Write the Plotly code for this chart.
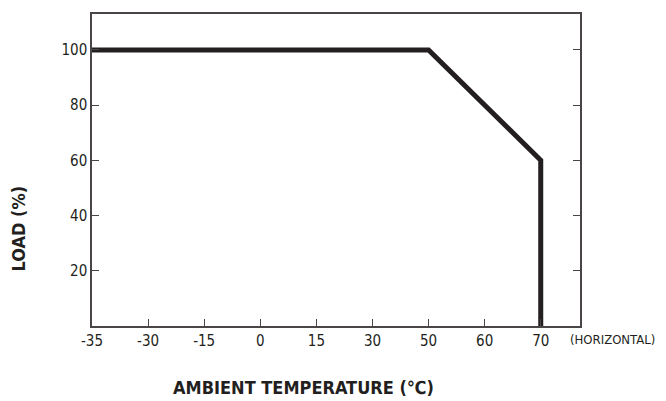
import plotly.graph_objects as go

# derating curve: ambient temperature vs load
temp_ticks = ['-35', '-30', '-15', '0', '15', '30', '50', '60', '70']
curve_temp = ['-35', '50', '70', '70']
curve_load = [100, 100, 60, 0]
load_ticks = [20, 40, 60, 80, 100]

ink = '#231f20'
axis_col = '#4a4646'
narrow = 'DejaVu Sans Condensed, Liberation Sans Narrow, Liberation Sans'
tick_font = dict(family=narrow, size=15, color=ink)
title_font = dict(family=narrow, size=18, color=ink)

fig = go.Figure()
fig.add_trace(go.Scatter(x=curve_temp, y=curve_load, mode='lines',
                         line=dict(color=ink, width=5), showlegend=False,
                         cliponaxis=False))

# page body adds ~8px offset, so the figure is a bit smaller than the window
fig.update_layout(
    width=659, height=395,
    margin=dict(l=84, r=87, t=4, b=77),
    plot_bgcolor='white', paper_bgcolor='white',
    xaxis=dict(type='category', categoryorder='array', categoryarray=temp_ticks,
               range=[0, 8.7], showgrid=False, zeroline=False,
               showline=True, linecolor=axis_col, linewidth=1.5, mirror=True,
               ticks='inside', ticklen=7, tickcolor=axis_col,
               tickfont=tick_font),
    yaxis=dict(range=[0, 113], tickvals=load_ticks, showgrid=False, zeroline=False,
               showline=True, linecolor=axis_col, linewidth=1.5, mirror='ticks',
               ticks='inside', ticklen=7, tickcolor=axis_col,
               tickfont=tick_font),
)

fig.add_annotation(text='<b>LOAD (%)</b>', textangle=-90, xref='paper', yref='paper',
                   x=-0.15, y=0.312, xanchor='center', yanchor='middle',
                   showarrow=False, font=title_font)
fig.add_annotation(text='<b>AMBIENT TEMPERATURE (℃)</b>', xref='paper', yref='paper',
                   x=0.434, y=-0.197, xanchor='center', yanchor='middle',
                   showarrow=False, font=title_font)
fig.add_annotation(text='(HORIZONTAL)', xref='paper', yref='paper',
                   x=0.975, y=-0.012, xanchor='left', yanchor='top',
                   showarrow=False, font=dict(family=narrow, size=13, color=ink))

fig.write_html('out.html')
